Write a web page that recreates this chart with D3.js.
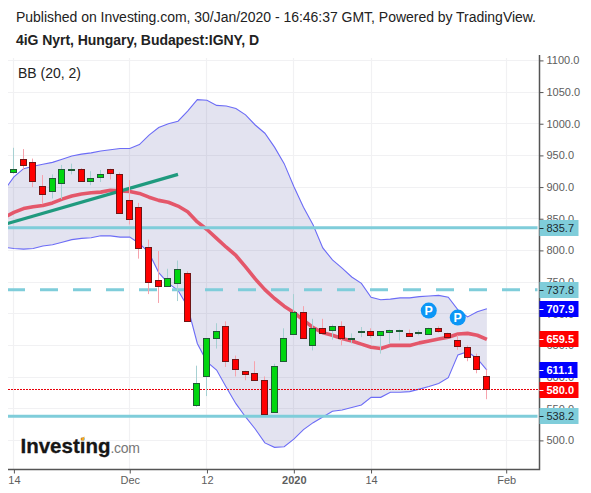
<!DOCTYPE html>
<html>
<head>
<meta charset="utf-8">
<script src="https://cdn.jsdelivr.net/npm/d3@7/dist/d3.min.js"></script>
<style>
html,body{margin:0;padding:0;background:#fff}
svg{display:block}
text{font-family:"Liberation Sans",Arial,sans-serif}
</style>
</head>
<body>
<svg id="chart" width="591" height="493"></svg>
<script>
// Daily candles, session 0 is 14 Nov 2019
const opens  = [924,945,940,902,895,907,928,929,910,915,928,921,880,868,805,754,745,749,765,555,601,661,680,628,610,606,595,546,625,669,702,650,678,674,680,660,671,672,666,672,674,670,670,669,678,670,659,647,634,601];
const highs  = [962,960,945,919,920,935,937,930,925,927,929,923,911,875,817,799,771,784,767,618,661,685,688,634,610,625,601,621,677,731,712,692,692,683,688,669,679,677,672,675,675,675,674,678,680,670,666,650,637,612];
const lows   = [921,927,900,873,882,881,920,909,903,908,912,859,841,787,731,717,743,720,689,553,570,645,616,601,595,594,542,545,624,668,660,642,669,659,650,653,663,662,637,652,658,665,666,669,670,664,643,625,606,565];
const closes = [929,936,910,889,915,929,929,910,915,920,921,860,850,804,749,745,757,771,689,590,661,672,625,613,606,595,542,618,662,703,661,677,670,680,661,661,672,666,672,675,675,666,671,678,674,664,650,631,614,580];

// Bollinger Bands (20, 2), first entry belongs to the session before the first candle
const bandUpper = [895,916,929,933,936,939,944,949,952,954,957,959,961,961,967,982,994,1000,1004,1020,1038,1037,1029,1028,1024,1014,998,985,963,937,901,868,840,804,785,772,758,748,726,722,723,725,725,727,728,729,726,706,695,703,707.9];
const bandBasis = [852,860,866,869,871,875,881,886,889,891,892,895,894,893,890,884,879,876,870,861,845,833,819,805,792,774,755,738,724,712,702,690,678,670,666,661,657,652,647,645,650,650,650,654,657,660,663,668,669,666,659.5];
const bandLower = [805,803,802,803,807,809,813,817,819,820,823,823,821,821,811,796,765,748,737,711,653,624,611,584,558,537,518,496,489,490,502,517,528,537,546,548,552,556,568,568,576,576,577,581,585,590,599,635,640,629,611.1];

const priceTicks = [500,550,600,650,700,750,800,850,900,950,1000,1050,1100];
const timeTickSessions = [0,12,20,29,37,51];
const timeTickLabels = ["14","Dec","12","2020","14","Feb"];

// Drawn trend line and horizontal levels
const trendSessions = [-1,17];
const trendPrices = [841,920];
const solidLevels = [835.7,538.2];
const dashedLevel = 737.8;
const lastClose = 580.0;
const pivotSessions = [43,46];
const pivotPrices = [705,694];

const W = 591, H = 493;
const plotL = 8, plotR = 539.5, plotT = 58, plotB = 469.5;

const x = d3.scaleLinear().domain([0,51]).range([13.9,506.2]);
const y = d3.scaleLinear().domain([500,1100]).range([440.4,60.4]);
const svg = d3.select("#chart");
const crisp = v => Math.floor(v)+0.5;

const defs = svg.append("defs");
defs.append("clipPath").attr("id","plot").append("rect")
  .attr("x",plotL).attr("y",plotT).attr("width",plotR-plotL).attr("height",plotB-plotT);
defs.append("clipPath").attr("id","scale").append("rect")
  .attr("x",0).attr("y",56).attr("width",W-plotR).attr("height",plotB-56);

// Title lines
svg.append("text").attr("x",16).attr("y",22).attr("font-size",14).attr("fill","#222").attr("letter-spacing",-0.025)
  .text("Published on Investing.com, 30/Jan/2020 - 16:46:37 GMT, Powered by TradingView.");
svg.append("text").attr("x",16).attr("y",45).attr("font-size",14).attr("font-weight","bold").attr("fill","#222").attr("letter-spacing",-0.05)
  .text("4iG Nyrt, Hungary, Budapest:IGNY, D");

// Grid
const grid = svg.append("g").attr("stroke","#f1f1f3").attr("stroke-width",1.2);
priceTicks.forEach(p=>grid.append("line").attr("x1",plotL).attr("x2",plotR).attr("y1",crisp(y(p))).attr("y2",crisp(y(p))));
timeTickSessions.forEach(s=>grid.append("line").attr("y1",plotT).attr("y2",plotB).attr("x1",crisp(x(s))).attr("x2",crisp(x(s))));

const plot = svg.append("g").attr("clip-path","url(#plot)");
const bx = (d,i)=>x(i-1);

// Band fill and outlines
plot.append("path").datum(bandUpper)
  .attr("fill","rgba(60,60,150,0.14)")
  .attr("d",d3.area().x(bx).y0((d,i)=>y(bandLower[i])).y1(d=>y(d)));
const bandLine = d3.line().x(bx).y(d=>y(d));
[bandUpper,bandLower].forEach(b=>plot.append("path").datum(b)
  .attr("fill","none").attr("stroke","#6c6cf6").attr("stroke-width",1.1).attr("d",bandLine));
plot.append("path").datum(bandBasis).attr("fill","none").attr("stroke","#e4576a").attr("stroke-width",3.6)
  .attr("stroke-linejoin","round").attr("d",bandLine);

// Trend line
plot.append("line").attr("stroke","#1f9a7e").attr("stroke-width",3.2)
  .attr("x1",x(trendSessions[0])).attr("y1",y(trendPrices[0]))
  .attr("x2",x(trendSessions[1])).attr("y2",y(trendPrices[1]));

// Horizontal levels
const levelColor = "#7fcdda";
solidLevels.forEach(v=>plot.append("line").attr("x1",plotL).attr("x2",plotR-2).attr("y1",y(v)).attr("y2",y(v))
  .attr("stroke",levelColor).attr("stroke-width",3));
plot.append("line").attr("x1",7).attr("x2",plotR-2).attr("y1",y(dashedLevel)).attr("y2",y(dashedLevel))
  .attr("stroke",levelColor).attr("stroke-width",3).attr("stroke-dasharray","18 15");

// Last price line
plot.append("line").attr("x1",plotL).attr("x2",plotR).attr("y1",crisp(y(lastClose))).attr("y2",crisp(y(lastClose)))
  .attr("stroke","#e8000a").attr("stroke-width",1).attr("stroke-dasharray","2 1");

// Candles
const cx = i=>Math.floor(x(i)-0.4)+0.5;
const candles = plot.append("g");
candles.selectAll("line").data(opens).join("line")
  .attr("x1",(d,i)=>cx(i)).attr("x2",(d,i)=>cx(i))
  .attr("y1",(d,i)=>y(highs[i])).attr("y2",(d,i)=>y(lows[i]))
  .attr("stroke",(d,i)=>closes[i]>=opens[i]?"#a6d0d2":"#f6a3ad").attr("stroke-width",1);
candles.selectAll("rect").data(opens).join("rect")
  .attr("x",(d,i)=>cx(i)-3).attr("width",6)
  .attr("y",(d,i)=>Math.round(y(Math.max(opens[i],closes[i])))+0.5)
  .attr("height",(d,i)=>Math.max(0.5,Math.round(Math.abs(y(opens[i])-y(closes[i])))))
  .attr("fill",(d,i)=>closes[i]>=opens[i]?"#00d60f":"#ff0000")
  .attr("stroke",(d,i)=>closes[i]>=opens[i]?"#1f5b35":"#701616").attr("stroke-width",1);

// Pivot markers
pivotSessions.forEach((s,i)=>{
  const g = svg.append("g").attr("transform",`translate(${x(s)-0.2},${y(pivotPrices[i])})`);
  g.append("circle").attr("r",8).attr("fill","#0c96f6");
  g.append("text").attr("text-anchor","middle").attr("y",4.5).attr("font-size",12.5).attr("font-weight","bold").attr("fill","#fff").text("P");
});

// Axes
const yAxis = svg.append("g").attr("transform",`translate(${plotR},0)`).attr("clip-path","url(#scale)")
  .call(d3.axisRight(y).tickValues(priceTicks).tickSize(4).tickPadding(3).tickFormat(d3.format(".1f")));
yAxis.select(".domain").remove();
yAxis.selectAll("line").attr("stroke","#555");
yAxis.selectAll("text").attr("font-size",11).attr("fill","#5d5d5d").attr("font-family",null);

const xAxis = svg.append("g").attr("transform",`translate(0,${plotB})`)
  .call(d3.axisBottom(x).tickValues(timeTickSessions).tickSize(4).tickPadding(3)
    .tickFormat((d,i)=>timeTickLabels[i]));
xAxis.select(".domain").remove();
xAxis.selectAll("line").attr("stroke","#555");
xAxis.selectAll("text").attr("font-size",11).attr("fill","#5d5d5d").attr("font-family",null)
  .attr("font-weight",(d,i)=>timeTickLabels[i]==="2020"?"bold":"normal");
svg.append("path").attr("fill","none").attr("stroke","#555").attr("stroke-width",1.5)
  .attr("d",`M${plotL},${plotB}H${plotR}V55`);

// Price tags on the scale
const tags = [
  {v:dashedLevel,bg:levelColor,fg:"#1c2a30",w:39},
  {v:bandUpper[bandUpper.length-1],bg:"#0000ff",fg:"#fff",w:39,b:1},
  {v:bandBasis[bandBasis.length-1],bg:"#ff0000",fg:"#fff",w:39,b:1},
  {v:bandLower[bandLower.length-1],bg:"#0000ff",fg:"#fff",w:38,b:1},
  {v:lastClose,bg:"#ff0000",fg:"#fff",w:39,b:1},
  {v:solidLevels[0],bg:levelColor,fg:"#1c2a30",w:39},
  {v:solidLevels[1],bg:levelColor,fg:"#1c2a30",w:39}
];
tags.forEach(t=>{
  const yy = Math.round(y(t.v));
  svg.append("rect").attr("x",plotR).attr("y",yy-8).attr("width",t.w).attr("height",16).attr("fill",t.bg);
  svg.append("line").attr("x1",plotR).attr("x2",plotR+4).attr("y1",yy+0.5).attr("y2",yy+0.5).attr("stroke",t.b?"#fff":"#1c2a30");
  svg.append("text").attr("x",plotR+7).attr("y",yy+4).attr("font-size",11).attr("fill",t.fg)
    .attr("font-weight",t.b?"bold":"normal").text(t.v.toFixed(1));
});

// Studies legend
svg.append("text").attr("x",18).attr("y",78).attr("font-size",14).attr("fill","#222").text("BB (20, 2)");

// Wordmark
const logo = svg.append("text").attr("x",20.5).attr("y",452.5);
logo.append("tspan").attr("font-size",20.5).attr("font-weight","bold").attr("fill","#151515")
  .attr("stroke","#151515").attr("stroke-width",0.3).text("Investing");
logo.append("tspan").attr("font-size",14).attr("fill","#777").attr("letter-spacing",-0.3).text(".com");
svg.append("path").attr("fill","#f5a623").attr("d","M81,438.5l3.5,-2l-0.5,4l-2.5,0z");
</script>
</body>
</html>
